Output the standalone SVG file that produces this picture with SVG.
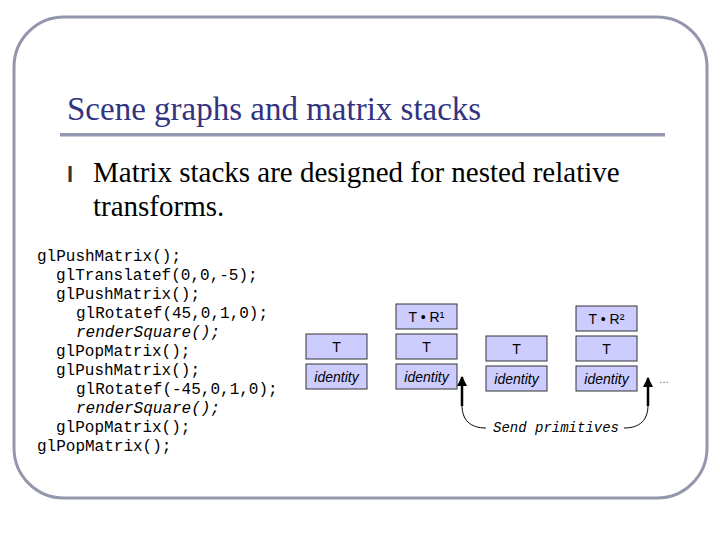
<svg xmlns="http://www.w3.org/2000/svg" width="720" height="540" viewBox="0 0 720 540">
<defs>
<marker id="ah" viewBox="0 0 10 10" refX="9" refY="5" markerWidth="4" markerHeight="5" orient="auto" markerUnits="strokeWidth">
<path d="M0,0 L10,5 L0,10 z" fill="#000"/>
</marker>
</defs>
<style>
.code{font-family:"Liberation Mono",monospace;font-size:16px;fill:#000}
.box rect{fill:#ccccff;stroke:#333;stroke-width:1}
.box text{font-family:"Liberation Sans",Arial,sans-serif;font-size:14px;fill:#000;text-anchor:middle}
.it{font-style:italic}
.conn{fill:none;stroke:#000}
</style>
<rect x="0" y="0" width="720" height="540" fill="#fff"/>
<rect x="14" y="17" width="693" height="481" rx="50" ry="50" fill="none" stroke="#9496ae" stroke-width="3"/>
<text x="67" y="120" font-family="Liberation Serif,serif" font-size="33" fill="#333380">Scene graphs and matrix stacks</text>
<rect x="60" y="133" width="605" height="3.5" fill="#9496ae"/>
<text x="67" y="182" font-family="Liberation Sans,sans-serif" font-size="22" font-weight="bold" fill="#333">l</text>
<text x="93" y="182" font-family="Liberation Serif,serif" font-size="29" fill="#000">Matrix stacks are designed for nested relative</text>
<text x="93" y="216" font-family="Liberation Serif,serif" font-size="29" fill="#000">transforms.</text>
<g id="code">
<text class="code" x="37" y="261">glPushMatrix();</text>
<text class="code" x="56" y="280">glTranslatef(0,0,-5);</text>
<text class="code" x="56" y="299">glPushMatrix();</text>
<text class="code" x="76" y="318">glRotatef(45,0,1,0);</text>
<text class="code it" x="76" y="337">renderSquare();</text>
<text class="code" x="56" y="356">glPopMatrix();</text>
<text class="code" x="56" y="375">glPushMatrix();</text>
<text class="code" x="76" y="394">glRotatef(-45,0,1,0);</text>
<text class="code it" x="76" y="413">renderSquare();</text>
<text class="code" x="56" y="432">glPopMatrix();</text>
<text class="code" x="37" y="451">glPopMatrix();</text>
</g>
<g id="s1-T" class="box"><rect x="306" y="334" width="61" height="25"/><text x="336.5" y="352">T</text></g>
<g id="s1-I" class="box"><rect x="306" y="364" width="61" height="25"/><text class="it" x="336.5" y="382">identity</text></g>
<g id="s2-TR" class="box"><rect x="396" y="304" width="61" height="25"/><text x="426.5" y="322">T • R¹</text></g>
<g id="s2-T" class="box"><rect x="396" y="334" width="61" height="25"/><text x="426.5" y="352">T</text></g>
<g id="s2-I" class="box"><rect x="396" y="364" width="61" height="25"/><text class="it" x="426.5" y="382">identity</text></g>
<g id="s3-T" class="box"><rect x="486" y="336" width="61" height="25"/><text x="516.5" y="354">T</text></g>
<g id="s3-I" class="box"><rect x="486" y="366" width="61" height="25"/><text class="it" x="516.5" y="384">identity</text></g>
<g id="s4-TR" class="box"><rect x="576" y="306" width="61" height="25"/><text x="606.5" y="324">T • R²</text></g>
<g id="s4-T" class="box"><rect x="576" y="336" width="61" height="25"/><text x="606.5" y="354">T</text></g>
<g id="s4-I" class="box"><rect x="576" y="366" width="61" height="25"/><text class="it" x="606.5" y="384">identity</text></g>
<text x="659" y="383" font-family="Liberation Sans,sans-serif" font-size="10" fill="#555">…</text>
<g id="connectors">
<path class="conn" d="M486,428 C470,428 462,420 462,405" stroke-width="1"/>
<path class="conn" d="M462,406 L462,377" stroke-width="2.5" marker-end="url(#ah)"/>
<path class="conn" d="M624,428 C640,428 648,420 648,405" stroke-width="1"/>
<path class="conn" d="M648,406 L648,378" stroke-width="2.5" marker-end="url(#ah)"/>
</g>
<text x="493" y="432" font-family="Liberation Mono,monospace" font-size="14" font-style="italic" fill="#000">Send primitives</text>
</svg>
